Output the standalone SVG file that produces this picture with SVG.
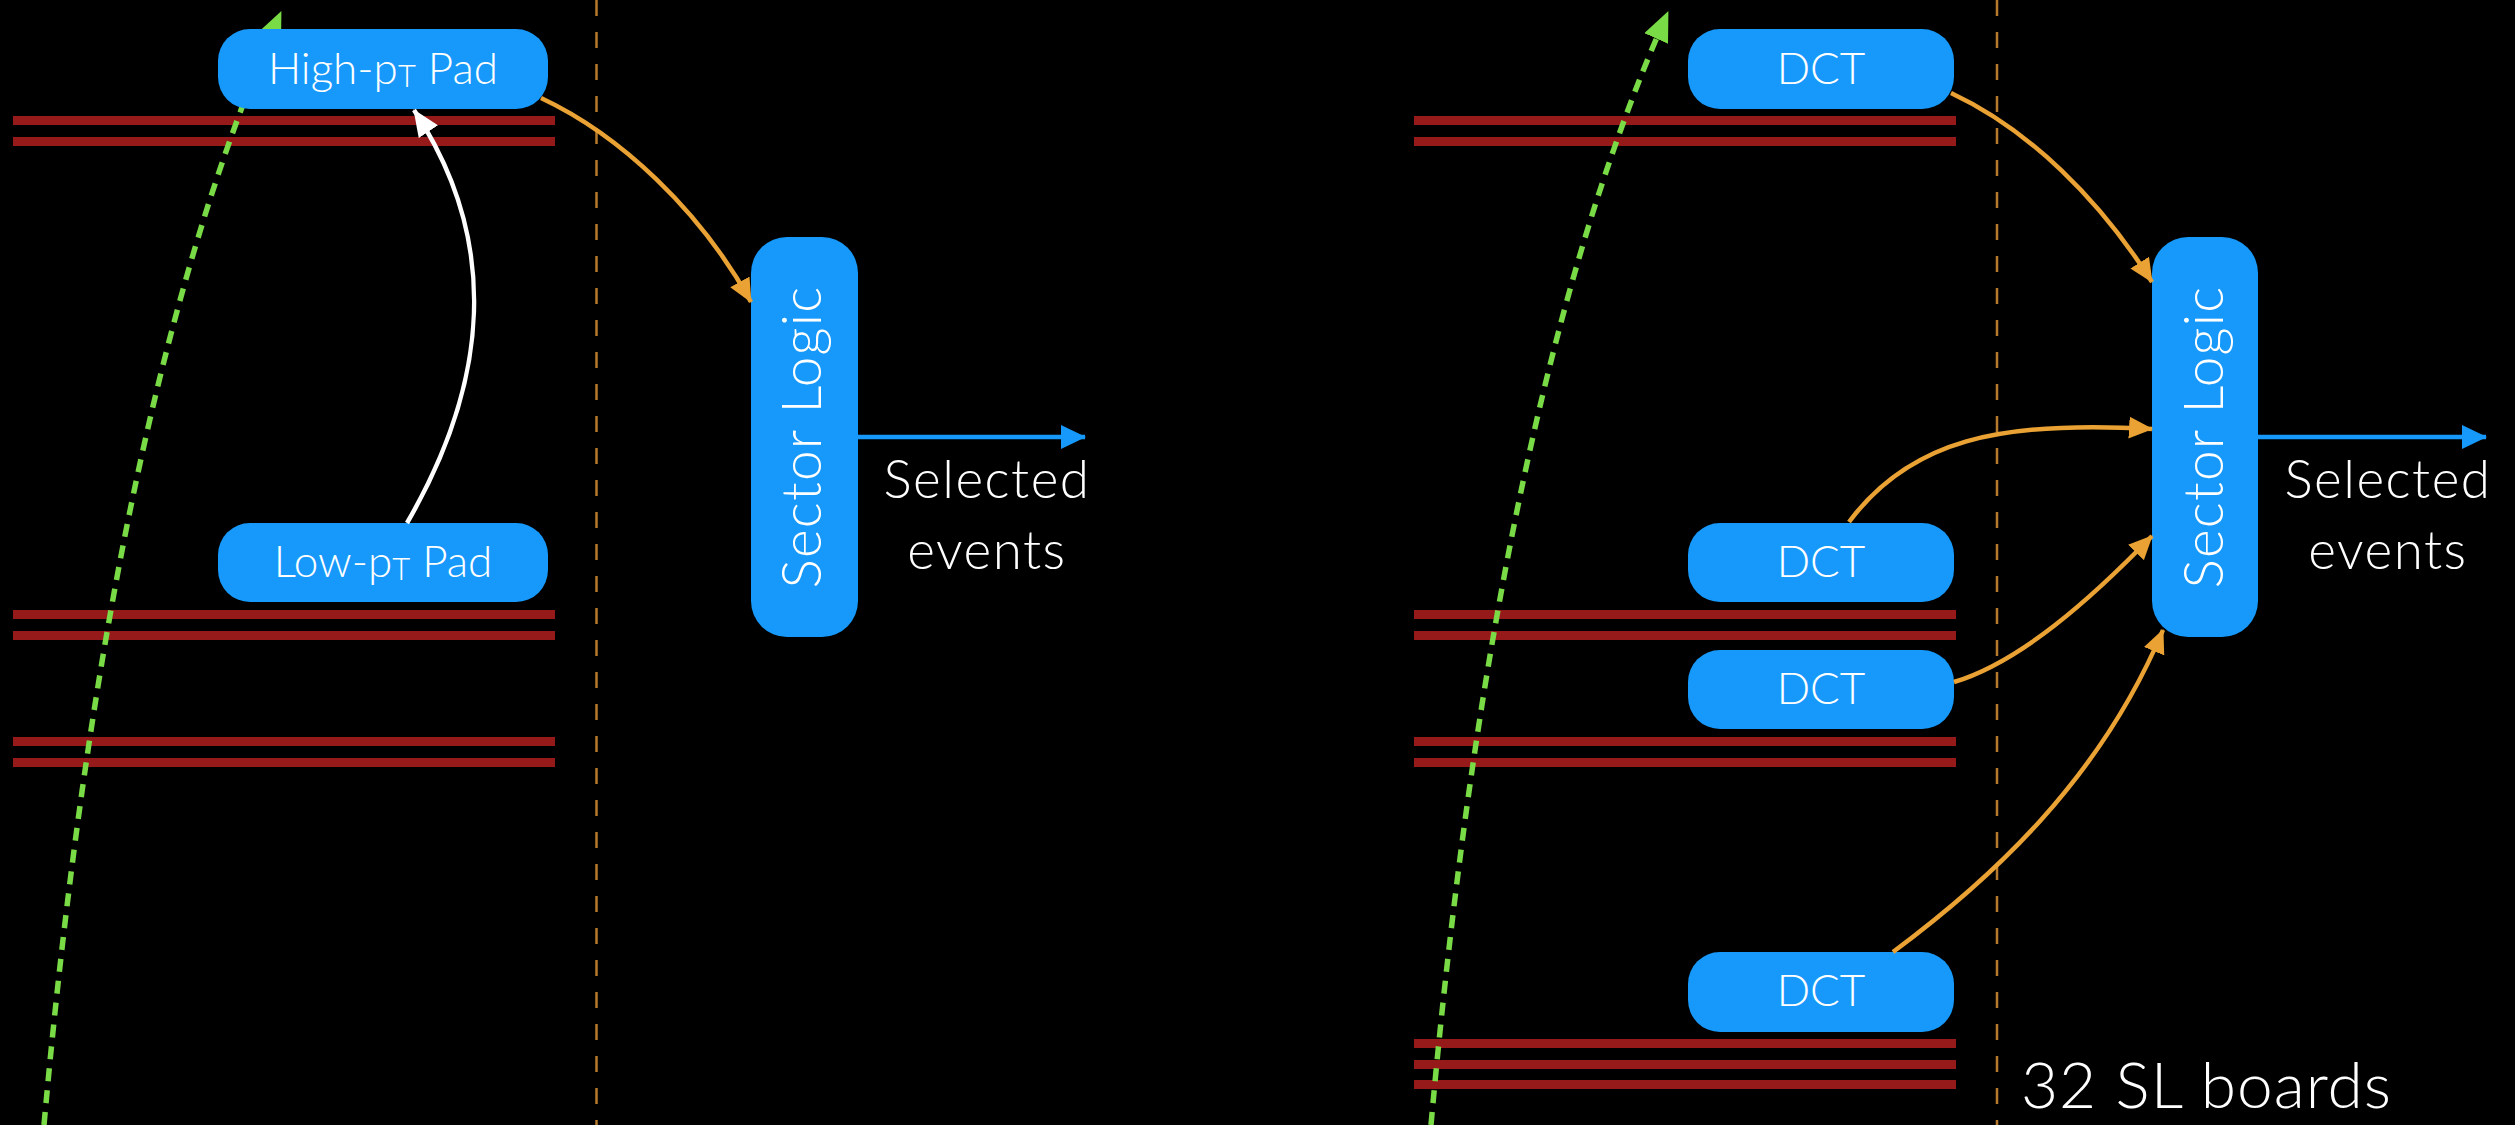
<svg xmlns="http://www.w3.org/2000/svg" width="2515" height="1125" viewBox="0 0 2515 1125">
  <style>
    .bg { fill: #000000; }
    .bar { fill: #961a1a; }
    .divider { stroke: #b67a2c; stroke-width: 2.5; stroke-dasharray: 16 16; fill: none; }
    .box { fill: #1699fb; }
    .lbl { fill: #ffffff; font-family: Lato, "Open Sans", "Liberation Sans", sans-serif; font-weight: 300; }
    .node-text { font-size: 44px; text-anchor: middle; }
    .sub { font-size: 31px; }
    .sl-text { font-size: 55px; text-anchor: middle; letter-spacing: 1.2px; }
    .sel-text { font-size: 53px; text-anchor: middle; letter-spacing: 1.5px; }
    .orange { stroke: #e9a233; stroke-width: 4.5; fill: none; }
    .white { stroke: #ffffff; stroke-width: 4.5; fill: none; }
    .blue { stroke: #1699fb; stroke-width: 4.5; fill: none; }
    .track { stroke: #79db45; stroke-width: 5.5; stroke-dasharray: 13 9; fill: none; }
  </style>
  <defs>
    <marker id="ah-orange" viewBox="0 0 24 22" refX="23" refY="11" markerWidth="24" markerHeight="22" markerUnits="userSpaceOnUse" orient="auto">
      <path d="M0,0 L24,11 L0,22 z" fill="#e9a233"/>
    </marker>
    <marker id="ah-white" viewBox="0 0 27 23" refX="26" refY="11.5" markerWidth="27" markerHeight="23" markerUnits="userSpaceOnUse" orient="auto">
      <path d="M0,0 L27,11.5 L0,23 z" fill="#ffffff"/>
    </marker>
    <marker id="ah-blue" viewBox="0 0 25 24" refX="24" refY="12" markerWidth="25" markerHeight="24" markerUnits="userSpaceOnUse" orient="auto">
      <path d="M0,0 L25,12 L0,24 z" fill="#1699fb"/>
    </marker>
    <marker id="ah-green" viewBox="0 0 30 26" refX="29" refY="13" markerWidth="30" markerHeight="26" markerUnits="userSpaceOnUse" orient="auto">
      <path d="M0,0 L30,13 L0,26 z" fill="#79db45"/>
    </marker>
  </defs>

  <rect class="bg" x="0" y="0" width="2515" height="1125"/>

  <!-- detector chamber layers -->
  <g id="layers-left">
    <rect class="bar" x="13" y="116" width="542" height="9"/>
    <rect class="bar" x="13" y="137" width="542" height="9"/>
    <rect class="bar" x="13" y="610" width="542" height="9"/>
    <rect class="bar" x="13" y="631" width="542" height="9"/>
    <rect class="bar" x="13" y="737" width="542" height="9"/>
    <rect class="bar" x="13" y="758" width="542" height="9"/>
  </g>
  <g id="layers-right">
    <rect class="bar" x="1414" y="116" width="542" height="9"/>
    <rect class="bar" x="1414" y="137" width="542" height="9"/>
    <rect class="bar" x="1414" y="610" width="542" height="9"/>
    <rect class="bar" x="1414" y="631" width="542" height="9"/>
    <rect class="bar" x="1414" y="737" width="542" height="9"/>
    <rect class="bar" x="1414" y="758" width="542" height="9"/>
    <rect class="bar" x="1414" y="1039" width="542" height="9"/>
    <rect class="bar" x="1414" y="1060" width="542" height="9"/>
    <rect class="bar" x="1414" y="1080" width="542" height="9"/>
  </g>

  <!-- dashed dividers -->
  <g id="dividers">
    <line class="divider" x1="596.5" y1="0" x2="596.5" y2="1125"/>
    <line class="divider" x1="1997" y1="0" x2="1997" y2="1125"/>
  </g>

  <!-- muon tracks -->
  <g id="tracks">
    <path class="track" d="M44,1125 C80,725 148,309 281,12" marker-end="url(#ah-green)"/>
    <path class="track" d="M1431,1125 C1467,725 1535,309 1668,12" marker-end="url(#ah-green)"/>
  </g>

  <!-- nodes: left panel -->
  <g id="high-pt-pad">
    <rect class="box" x="218" y="29" width="330" height="80" rx="32"/>
    <text class="lbl node-text" x="383" y="84">High-p<tspan class="sub" dy="3">T</tspan><tspan dy="-3"> Pad</tspan></text>
  </g>
  <g id="low-pt-pad">
    <rect class="box" x="218" y="523" width="330" height="79" rx="32"/>
    <text class="lbl node-text" x="383" y="577">Low-p<tspan class="sub" dy="3">T</tspan><tspan dy="-3"> Pad</tspan></text>
  </g>
  <g id="sector-logic-left">
    <rect class="box" x="751" y="237" width="107" height="400" rx="36"/>
    <text class="lbl sl-text" transform="translate(821,437) rotate(-90)" x="0" y="0">Sector Logic</text>
  </g>
  <g id="selected-left">
    <text class="lbl sel-text" x="987" y="498">Selected</text>
    <text class="lbl sel-text" x="987" y="569">events</text>
  </g>

  <!-- nodes: right panel -->
  <g id="dct-1">
    <rect class="box" x="1688" y="29" width="266" height="80" rx="32"/>
    <text class="lbl node-text" x="1821" y="84">DCT</text>
  </g>
  <g id="dct-2">
    <rect class="box" x="1688" y="523" width="266" height="79" rx="32"/>
    <text class="lbl node-text" x="1821" y="577">DCT</text>
  </g>
  <g id="dct-3">
    <rect class="box" x="1688" y="650" width="266" height="79" rx="32"/>
    <text class="lbl node-text" x="1821" y="704">DCT</text>
  </g>
  <g id="dct-4">
    <rect class="box" x="1688" y="952" width="266" height="80" rx="32"/>
    <text class="lbl node-text" x="1821" y="1006">DCT</text>
  </g>
  <g id="sector-logic-right">
    <rect class="box" x="2152" y="237" width="106" height="400" rx="36"/>
    <text class="lbl sl-text" transform="translate(2223,437) rotate(-90)" x="0" y="0">Sector Logic</text>
  </g>
  <g id="selected-right">
    <text class="lbl sel-text" x="2388" y="498">Selected</text>
    <text class="lbl sel-text" x="2388" y="569">events</text>
  </g>
  <g id="sl-boards-label">
    <text class="lbl" x="2021" y="1108" font-size="64" letter-spacing="1">32 SL boards</text>
  </g>

  <!-- connectors -->
  <g id="connectors">
    <path class="white" d="M407,523 C490,380 500,240 414,110" marker-end="url(#ah-white)"/>
    <path class="orange" d="M541,98 C620,135 700,210 751,302" marker-end="url(#ah-orange)"/>
    <path class="blue" d="M858,437 L1085,437" marker-end="url(#ah-blue)"/>

    <path class="orange" d="M1951,93 C2030,130 2100,200 2152,282" marker-end="url(#ah-orange)"/>
    <path class="orange" d="M1849,522 C1910,440 2000,420 2152,429" marker-end="url(#ah-orange)"/>
    <path class="orange" d="M1954,682 C2020,662 2090,600 2152,536" marker-end="url(#ah-orange)"/>
    <path class="orange" d="M1893,952 C1990,880 2100,780 2163,630" marker-end="url(#ah-orange)"/>
    <path class="blue" d="M2258,437 L2486,437" marker-end="url(#ah-blue)"/>
  </g>
</svg>
